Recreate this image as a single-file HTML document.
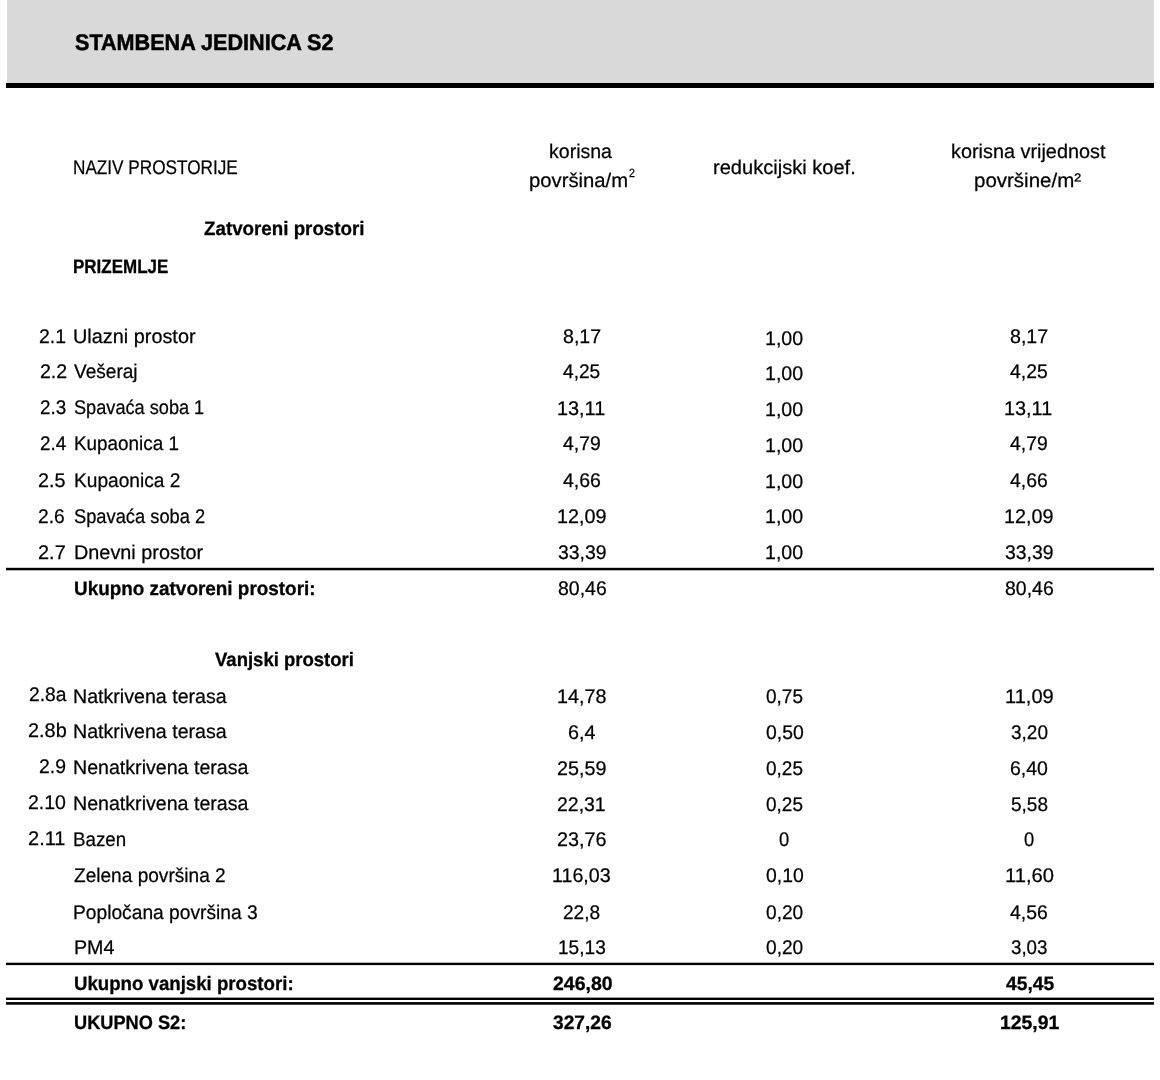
<!DOCTYPE html>
<html lang="hr"><head><meta charset="utf-8"><title>Stambena jedinica S2</title>
<style>
html,body{margin:0;padding:0;background:#fff}
body{width:1160px;height:1080px;position:relative;overflow:hidden;font-family:"Liberation Sans",sans-serif;color:#000}
.band{position:absolute;left:7px;top:0;width:1147px;height:83px;background:#d9d9d9}
.rules{position:absolute;left:0;top:0}
.t{position:absolute;white-space:pre;text-rendering:geometricPrecision;line-height:0;font-size:19.8px;transform-origin:0 0;color:#000;-webkit-text-stroke:0.25px #000}
.b{font-weight:bold;font-size:19.4px;-webkit-text-stroke:0.3px #000}
.h{font-size:22.6px;-webkit-text-stroke:0.5px #000}
.s{font-size:12.0px}
</style></head>
<body>
<div class="band"></div>
<svg class="rules" width="1160" height="1080" viewBox="0 0 1160 1080">
<rect x="6" y="83" width="1148" height="5" fill="#000"/>
<rect x="6" y="567.8" width="1148" height="2.5" fill="#000"/>
<rect x="6" y="962.7" width="1148" height="2.4" fill="#000"/>
<rect x="6" y="997.6" width="1148" height="2.4" fill="#000"/>
<rect x="6" y="1002.1" width="1148" height="2.6" fill="#000"/>
</svg>
<div class="t b h" style="left:74.59px;top:43px;transform:scaleX(0.9563)">STAMBENA JEDINICA S2</div>
<div class="t" style="left:73.39px;top:168px;transform:scaleX(0.8682)">NAZIV PROSTORIJE</div>
<div class="t" style="left:549.29px;top:152px;transform:scaleX(0.9878)">korisna</div>
<div class="t" style="left:528.55px;top:181px;transform:scaleX(1.0244)">površina/m</div>
<div class="t s" style="left:628.56px;top:173px;transform:scaleX(0.8897)">2</div>
<div class="t" style="left:712.51px;top:168px;transform:scaleX(1.0143)">redukcijski koef.</div>
<div class="t" style="left:950.77px;top:152px;transform:scaleX(1.0034)">korisna vrijednost</div>
<div class="t" style="left:974.49px;top:181px;transform:scaleX(1.0360)">površine/m²</div>
<div class="t b" style="left:203.55px;top:229px;transform:scaleX(0.9675)">Zatvoreni prostori</div>
<div class="t b" style="left:73.41px;top:267px;transform:scaleX(0.8754)">PRIZEMLJE</div>
<div class="t" style="left:38.79px;top:337px;transform:scaleX(0.9795)">2.1</div>
<div class="t" style="left:73.27px;top:337px;transform:scaleX(1.0042)">Ulazni prostor</div>
<div class="t" style="left:562.77px;top:337px;transform:scaleX(0.9921)">8,17</div>
<div class="t" style="left:765.03px;top:339px;transform:scaleX(0.9921)">1,00</div>
<div class="t" style="left:1009.77px;top:337px;transform:scaleX(0.9921)">8,17</div>
<div class="t" style="left:39.54px;top:372px;transform:scaleX(0.9885)">2.2</div>
<div class="t" style="left:74.27px;top:372px;transform:scaleX(0.9638)">Vešeraj</div>
<div class="t" style="left:562.77px;top:372px;transform:scaleX(0.9665)">4,25</div>
<div class="t" style="left:765.03px;top:374px;transform:scaleX(0.9921)">1,00</div>
<div class="t" style="left:1009.77px;top:372px;transform:scaleX(0.9794)">4,25</div>
<div class="t" style="left:39.57px;top:408px;transform:scaleX(0.9515)">2.3</div>
<div class="t" style="left:74.26px;top:408px;transform:scaleX(0.9179)">Spavaća soba 1</div>
<div class="t" style="left:556.77px;top:409px;transform:scaleX(1.0036)">13,11</div>
<div class="t" style="left:765.03px;top:410px;transform:scaleX(0.9921)">1,00</div>
<div class="t" style="left:1004.27px;top:409px;transform:scaleX(1.0036)">13,11</div>
<div class="t" style="left:40.07px;top:444px;transform:scaleX(0.9515)">2.4</div>
<div class="t" style="left:73.82px;top:444px;transform:scaleX(0.9539)">Kupaonica 1</div>
<div class="t" style="left:562.77px;top:444px;transform:scaleX(0.9794)">4,79</div>
<div class="t" style="left:765.03px;top:446px;transform:scaleX(0.9921)">1,00</div>
<div class="t" style="left:1009.77px;top:444px;transform:scaleX(0.9794)">4,79</div>
<div class="t" style="left:37.53px;top:481px;transform:scaleX(0.9982)">2.5</div>
<div class="t" style="left:73.80px;top:481px;transform:scaleX(0.9674)">Kupaonica 2</div>
<div class="t" style="left:563.27px;top:481px;transform:scaleX(0.9858)">4,66</div>
<div class="t" style="left:765.03px;top:482px;transform:scaleX(0.9921)">1,00</div>
<div class="t" style="left:1010.27px;top:481px;transform:scaleX(0.9794)">4,66</div>
<div class="t" style="left:38.30px;top:517px;transform:scaleX(0.9702)">2.6</div>
<div class="t" style="left:74.27px;top:517px;transform:scaleX(0.9244)">Spavaća soba 2</div>
<div class="t" style="left:556.78px;top:517px;transform:scaleX(0.9990)">12,09</div>
<div class="t" style="left:765.03px;top:517px;transform:scaleX(0.9921)">1,00</div>
<div class="t" style="left:1004.28px;top:517px;transform:scaleX(0.9990)">12,09</div>
<div class="t" style="left:38.27px;top:553px;transform:scaleX(1.0079)">2.7</div>
<div class="t" style="left:73.77px;top:553px;transform:scaleX(1.0031)">Dnevni prostor</div>
<div class="t" style="left:557.77px;top:553px;transform:scaleX(0.9789)">33,39</div>
<div class="t" style="left:765.03px;top:553px;transform:scaleX(0.9921)">1,00</div>
<div class="t" style="left:1005.27px;top:553px;transform:scaleX(0.9789)">33,39</div>
<div class="t b" style="left:73.82px;top:589px;transform:scaleX(0.9749)">Ukupno zatvoreni prostori:</div>
<div class="t" style="left:557.77px;top:589px;transform:scaleX(0.9839)">80,46</div>
<div class="t" style="left:1005.27px;top:589px;transform:scaleX(0.9839)">80,46</div>
<div class="t b" style="left:214.79px;top:660px;transform:scaleX(0.9550)">Vanjski prostori</div>
<div class="t" style="left:28.80px;top:695px;transform:scaleX(0.9722)">2.8a</div>
<div class="t" style="left:73.28px;top:697px;transform:scaleX(0.9914)">Natkrivena terasa</div>
<div class="t" style="left:556.78px;top:697px;transform:scaleX(0.9990)">14,78</div>
<div class="t" style="left:765.52px;top:697px;transform:scaleX(0.9600)">0,75</div>
<div class="t" style="left:1005.01px;top:697px;transform:scaleX(1.0141)">11,09</div>
<div class="t" style="left:27.52px;top:731px;transform:scaleX(1.0053)">2.8b</div>
<div class="t" style="left:73.28px;top:732px;transform:scaleX(0.9914)">Natkrivena terasa</div>
<div class="t" style="left:567.53px;top:733px;transform:scaleX(0.9982)">6,4</div>
<div class="t" style="left:765.52px;top:733px;transform:scaleX(0.9794)">0,50</div>
<div class="t" style="left:1011.02px;top:733px;transform:scaleX(0.9600)">3,20</div>
<div class="t" style="left:39.29px;top:767px;transform:scaleX(0.9795)">2.9</div>
<div class="t" style="left:73.28px;top:768px;transform:scaleX(0.9911)">Nenatkrivena terasa</div>
<div class="t" style="left:556.78px;top:769px;transform:scaleX(0.9990)">25,59</div>
<div class="t" style="left:765.52px;top:769px;transform:scaleX(0.9600)">0,25</div>
<div class="t" style="left:1010.04px;top:769px;transform:scaleX(0.9855)">6,40</div>
<div class="t" style="left:28.29px;top:803px;transform:scaleX(0.9855)">2.10</div>
<div class="t" style="left:73.28px;top:804px;transform:scaleX(0.9911)">Nenatkrivena terasa</div>
<div class="t" style="left:556.79px;top:805px;transform:scaleX(0.9836)">22,31</div>
<div class="t" style="left:765.52px;top:805px;transform:scaleX(0.9600)">0,25</div>
<div class="t" style="left:1011.02px;top:805px;transform:scaleX(0.9600)">5,58</div>
<div class="t" style="left:28.26px;top:839px;transform:scaleX(1.0116)">2.11</div>
<div class="t" style="left:73.32px;top:840px;transform:scaleX(0.9469)">Bazen</div>
<div class="t" style="left:556.78px;top:840px;transform:scaleX(0.9990)">23,76</div>
<div class="t" style="left:779.02px;top:840px;transform:scaleX(0.9289)">0</div>
<div class="t" style="left:1024.02px;top:840px;transform:scaleX(0.9289)">0</div>
<div class="t" style="left:74.27px;top:876px;transform:scaleX(0.9646)">Zelena površina 2</div>
<div class="t" style="left:552.03px;top:876px;transform:scaleX(0.9943)">116,03</div>
<div class="t" style="left:765.52px;top:876px;transform:scaleX(0.9794)">0,10</div>
<div class="t" style="left:1005.01px;top:876px;transform:scaleX(1.0194)">11,60</div>
<div class="t" style="left:73.30px;top:913px;transform:scaleX(0.9707)">Popločana površina 3</div>
<div class="t" style="left:563.41px;top:913px;transform:scaleX(0.9656)">22,8</div>
<div class="t" style="left:765.77px;top:913px;transform:scaleX(0.9665)">0,20</div>
<div class="t" style="left:1010.27px;top:913px;transform:scaleX(0.9794)">4,56</div>
<div class="t" style="left:73.78px;top:948px;transform:scaleX(0.9944)">PM4</div>
<div class="t" style="left:557.91px;top:948px;transform:scaleX(0.9651)">15,13</div>
<div class="t" style="left:765.77px;top:948px;transform:scaleX(0.9665)">0,20</div>
<div class="t" style="left:1011.02px;top:948px;transform:scaleX(0.9471)">3,03</div>
<div class="t b" style="left:74.23px;top:984px;transform:scaleX(0.9615)">Ukupno vanjski prostori:</div>
<div class="t b" style="left:552.70px;top:984px;transform:scaleX(1.0038)">246,80</div>
<div class="t b" style="left:1005.50px;top:984px;transform:scaleX(0.9921)">45,45</div>
<div class="t b" style="left:74.05px;top:1023px;transform:scaleX(0.9388)">UKUPNO S2:</div>
<div class="t b" style="left:552.70px;top:1023px;transform:scaleX(0.9871)">327,26</div>
<div class="t b" style="left:999.50px;top:1023px;transform:scaleX(0.9987)">125,91</div>
</body></html>
